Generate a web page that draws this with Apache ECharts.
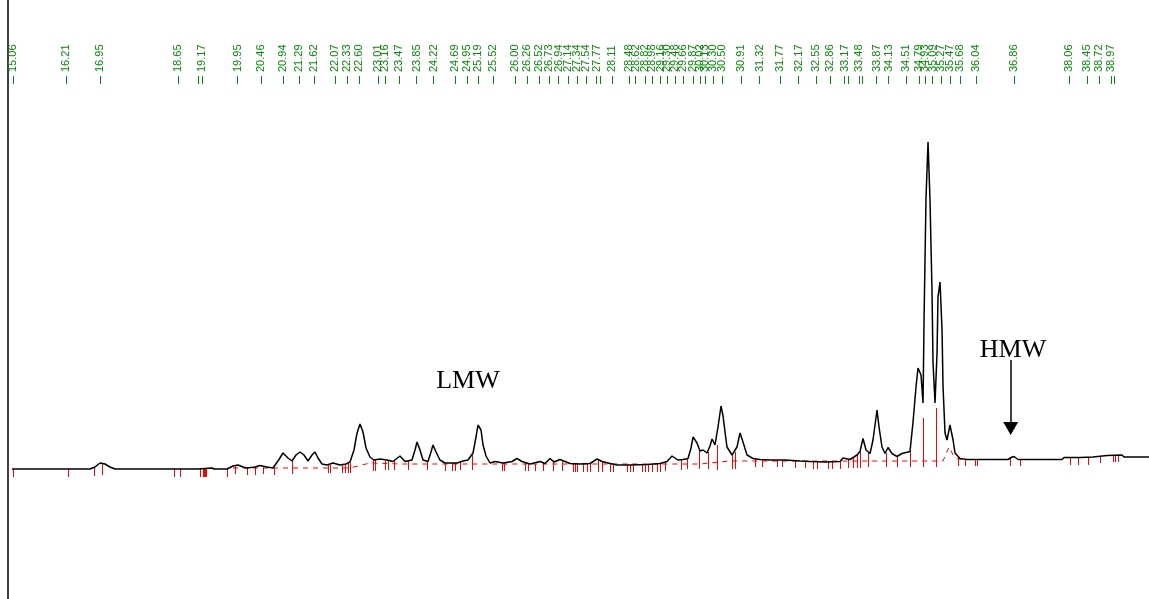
<!DOCTYPE html>
<html>
<head>
<meta charset="utf-8">
<title>Chromatogram</title>
<script src="https://cdn.jsdelivr.net/npm/echarts@6/dist/echarts.min.js"></script>
<style>
  html, body { margin: 0; padding: 0; background: #ffffff; }
  #chart { width: 1149px; height: 599px; }
</style>
</head>
<body>
<div id="chart"></div>
<script>
// Retention-time window (min) and detector range
const timeRange = [14.945, 39.803];
const signalRange = [-130, 469];

// Peak apex retention times printed along the top
const peakLabels = [15.06, 16.21, 16.95, 18.65, 19.17, 19.95, 20.46, 20.94, 21.29, 21.62,
  22.07, 22.33, 22.60, 23.01, 23.16, 23.47, 23.85, 24.22, 24.69, 24.95, 25.19, 25.52,
  26.00, 26.26, 26.52, 26.73, 26.94, 27.14, 27.34, 27.54, 27.77, 28.11,
  28.48, 28.62, 28.82, 28.98, 29.16, 29.30, 29.48, 29.66, 29.87, 30.02, 30.13, 30.30, 30.50,
  30.91, 31.32, 31.77, 32.17, 32.55, 32.86, 33.17, 33.48, 33.87, 34.13,
  34.51, 34.79, 34.93, 35.09, 35.27, 35.47, 35.68, 36.04, 36.86, 38.06, 38.45, 38.72, 38.97];
// Extra apex ticks of co-eluting peaks (no printed label)
const extraTicks = [19.10, 27.84, 33.24, 33.55, 39.05];

// Detector trace: [retention time, signal]
const trace = [[15.032,0],[16.731,0],[16.840,2],[16.949,6],[17.058,5],[17.167,2],[17.276,0],
  [19.084,0],[19.127,1],[19.389,1],[19.433,0],[19.716,0],[19.847,3],[19.955,4],[20.065,2],
  [20.151,1],[20.326,2],[20.435,3.5],[20.587,2],[20.718,1],[20.827,8],[20.936,16],[21.045,11],
  [21.132,8],[21.219,14],[21.307,17],[21.393,14],[21.481,8],[21.568,14],[21.633,17],[21.699,11],
  [21.786,5],[21.895,4],[22.025,6],[22.178,4],[22.309,5],[22.396,7],[22.483,19],[22.549,36],
  [22.614,45],[22.679,37],[22.745,21],[22.831,12],[22.918,9],[23.049,10],[23.202,9],[23.332,7.5],
  [23.485,13],[23.594,7.5],[23.746,9],[23.812,19],[23.856,27],[23.921,19],[23.987,9],[24.095,7.5],
  [24.160,17],[24.204,24],[24.270,17],[24.356,9],[24.466,6],[24.727,6],[24.858,8],[24.966,9],
  [25.076,16],[25.141,32],[25.184,44],[25.250,39],[25.294,24],[25.359,13],[25.446,6],[25.555,7.5],
  [25.729,6],[25.926,7.5],[26.034,10.5],[26.143,7.5],[26.318,5],[26.536,7.5],[26.644,5.5],
  [26.754,10.5],[26.840,7],[26.971,9.5],[27.080,7.5],[27.189,5.5],[27.407,5],[27.625,5.5],
  [27.778,10],[27.886,7.5],[28.061,5.5],[28.213,4],[28.496,4],[28.867,4.5],[29.150,5.5],
  [29.302,7.5],[29.411,13],[29.542,9],[29.651,9.5],[29.760,10.5],[29.825,21],[29.869,32],
  [29.956,26],[30.021,18],[30.087,19],[30.174,16],[30.239,23],[30.283,30],[30.348,24],
  [30.413,42],[30.479,63],[30.523,53],[30.566,37],[30.609,22],[30.719,14],[30.827,22],
  [30.893,36],[30.958,27],[31.045,14],[31.176,10.5],[31.329,9.5],[31.547,9],[31.873,9],
  [32.200,8],[32.418,7.5],[32.744,7],[33.072,7.5],[33.137,11],[33.289,9.5],[33.442,14],
  [33.507,17.5],[33.572,30.5],[33.638,19],[33.725,15.5],[33.790,29],[33.878,59],[33.921,42],
  [33.986,22],[34.052,15.5],[34.117,21.5],[34.204,15.5],[34.313,12.5],[34.422,15.5],[34.596,17.5],
  [34.662,47],[34.727,82],[34.771,101],[34.836,94],[34.880,66],[34.902,149],[34.945,271],
  [34.989,327],[35.032,269],[35.075,179],[35.098,106],[35.141,66],[35.185,116],[35.206,172],
  [35.250,187],[35.294,139],[35.316,82],[35.359,36],[35.403,29],[35.467,44],[35.534,29],
  [35.577,16],[35.686,10.5],[35.838,9.5],[36.731,9.5],[36.797,11.5],[36.862,12.5],[36.949,9.5],
  [37.908,9.5],[37.952,11.5],[38.300,11.5],[38.583,12],[38.889,13.5],[39.215,14],[39.259,12],
  [39.803,12]];

// Integration baseline: [retention time, signal]
const baseline = [[19.847,1],[22.395,1],[22.831,6],[23.485,5],[30.021,5],[30.674,8],
  [35.316,8],[35.446,22],[35.560,12],[35.690,9.5],[36.000,9.5]];

// Peak boundary drop lines: [retention time, low end, high end]
const boundaries = [[15.053,-8,0],[16.252,-8,0],[16.818,-7,2],[16.993,-6,5],[18.561,-8,0],
  [18.692,-8,0],[19.128,-8,1],[19.193,-8,1],[19.215,-8,1],[19.237,-8,1],[19.258,-8,1],
  [19.716,-8,0],[19.890,-5,3],[20.152,-6,1],[20.326,-6,2],[20.500,-5,3],[20.740,-6,1],
  [21.132,-5,8],[21.916,-4,4],[21.960,-4,4],[22.221,-4,4],[22.286,-4,5],[22.352,-4,5],
  [22.395,-4,6],[22.897,-2,9],[22.940,-2,9],[23.158,-1,8],[23.223,-1,8],[23.354,-1,8],
  [23.659,-1,8],[24.073,-1,8],[24.465,-2,6],[24.618,-2,6],[24.683,-2,6],[24.792,-1,7],
  [25.053,-1,14],[25.707,-2,6],[25.751,-2,6],[26.208,-2,6],[26.273,-2,5],[26.426,-2,5],
  [26.600,-2,7],[26.818,-2,9],[27.014,-2,9],[27.254,-3,5],[27.297,-3,5],[27.341,-3,5],
  [27.472,-3,5],[27.559,-3,5],[27.624,-3,5],[27.799,-3,9],[27.886,-3,7],[28.060,-3,5],
  [28.125,-3,5],[28.430,-3,4],[28.496,-3,4],[28.561,-3,4],[28.757,-3,4],[28.822,-3,4],
  [28.888,-3,4],[28.975,-3,5],[29.084,-3,5],[29.149,-3,5],[29.258,-2,7],[29.607,-1,9],
  [29.738,0,10],[29.999,0,18],[30.195,0,17],[30.391,-1,24],[30.718,0,14],[30.783,0,17],
  [31.219,2,10],[31.372,2,9],[31.698,2,9],[31.807,2,9],[32.091,1,8],[32.309,1,8],
  [32.483,0,7.5],[32.570,0,7.5],[32.809,0,7],[32.897,0,7],[33.071,0,8],[33.245,1,10],
  [33.354,1,11],[33.441,1,14],[33.507,1,17],[33.681,2,16],[34.073,2,16],[34.313,2,13],
  [34.596,2,18],[34.879,2,51],[35.162,2,61],[35.642,3,11],[35.794,3,9.5],[36.012,3,9.5],
  [36.056,3,9.5],[36.775,3,11],[36.993,3,9.5],[38.082,4,11],[38.256,4,11],[38.474,4,12],
  [38.736,6,13],[39.019,7,14],[39.062,7,14],[39.128,7,14]];

// Fraction annotations
const fractionLabels = ['LMW', 'HMW'];
const hmwArrow = { time: 36.79, from: 109, to: 40.5 };

const GREEN = '#0a8a0a';
const chart = echarts.init(document.getElementById('chart'), null, { renderer: 'canvas' });

chart.setOption({
  animation: false,
  backgroundColor: '#ffffff',
  grid: [
    { left: 8, right: 0, top: 0, bottom: 0 },
    { left: 8, right: 0, top: 83, height: 1 }
  ],
  xAxis: [
    { type: 'value', gridIndex: 0, min: timeRange[0], max: timeRange[1], show: false },
    {
      type: 'value', gridIndex: 1, position: 'top',
      min: timeRange[0], max: timeRange[1],
      axisLine: { show: false },
      splitLine: { show: false },
      axisTick: {
        show: true, length: 8, inside: false,
        customValues: peakLabels.concat(extraTicks),
        lineStyle: { color: GREEN, width: 1 }
      },
      axisLabel: {
        show: true, rotate: 90, margin: 11,
        customValues: peakLabels,
        hideOverlap: false,
        color: GREEN, fontSize: 11, fontFamily: '"Liberation Sans", Arial, sans-serif',
        formatter: v => v.toFixed(2)
      }
    }
  ],
  yAxis: [
    {
      type: 'value', gridIndex: 0, min: signalRange[0], max: signalRange[1],
      axisLine: { show: true, lineStyle: { color: '#000', width: 1.5 } },
      axisTick: { show: false }, axisLabel: { show: false }, splitLine: { show: false }
    },
    { type: 'value', gridIndex: 1, show: false }
  ],
  graphic: [
    {
      type: 'text', left: null, x: 468, y: 381, z: 10,
      style: { text: fractionLabels[0], fill: '#000', font: '26px "Liberation Serif", "Times New Roman", serif',
               textAlign: 'center', textVerticalAlign: 'middle' }
    },
    {
      type: 'text', x: 1013, y: 350, z: 10,
      style: { text: fractionLabels[1], fill: '#000', font: '26px "Liberation Serif", "Times New Roman", serif',
               textAlign: 'center', textVerticalAlign: 'middle' }
    }
  ],
  series: [
    {
      name: 'baseline', type: 'line', xAxisIndex: 0, yAxisIndex: 0,
      data: baseline, showSymbol: false, silent: true, z: 2,
      lineStyle: { color: '#ff0000', width: 1, type: [5, 5] }
    },
    {
      name: 'boundaries', type: 'custom', xAxisIndex: 0, yAxisIndex: 0,
      data: boundaries, silent: true, z: 3,
      encode: { x: 0, y: [1, 2] },
      renderItem: function (params, api) {
        const lo = api.coord([api.value(0), api.value(1)]);
        const hi = api.coord([api.value(0), api.value(2)]);
        return {
          type: 'line',
          shape: { x1: Math.round(lo[0]) + 0.5, y1: lo[1], x2: Math.round(hi[0]) + 0.5, y2: hi[1] },
          style: { stroke: '#ff0000', lineWidth: 1 }
        };
      }
    },
    {
      name: 'signal', type: 'line', xAxisIndex: 0, yAxisIndex: 0,
      data: trace, showSymbol: false, silent: true, z: 4,
      lineStyle: { color: '#000', width: 1.5 },
      markLine: {
        silent: true, animation: false,
        symbol: ['none', 'triangle'], symbolSize: [15, 13],
        lineStyle: { color: '#000', width: 1.5, type: 'solid' },
        label: { show: false },
        data: [[{ coord: [hmwArrow.time, hmwArrow.from] }, { coord: [hmwArrow.time, hmwArrow.to] }]]
      }
    }
  ]
});
</script>
</body>
</html>
